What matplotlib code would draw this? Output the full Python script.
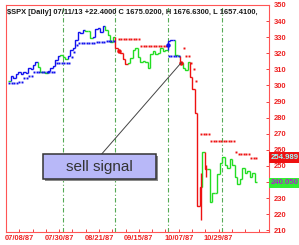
import numpy as np
import matplotlib
matplotlib.use("Agg")
import matplotlib.pyplot as plt
from matplotlib.collections import LineCollection
from matplotlib.patches import Rectangle

# ---------------- data (trading days Jul 1 .. Nov 19, 1987) ----------------
close = [302.94, 305.63, 304.92, 307.40, 308.29, 307.41, 308.37, 307.63, 310.68, 310.42,
         312.70, 314.59, 311.39, 308.55, 308.47, 307.81, 309.27, 310.65, 312.33, 315.65,
         318.05, 318.66, 317.57, 316.23, 318.45, 322.10, 323.00, 328.00, 333.33, 332.39,
         334.65, 333.99, 334.11, 329.25, 329.83, 334.84, 335.90, 333.33, 336.77, 334.57,
         331.38, 327.04, 329.80, 323.40, 321.68, 320.21, 316.70, 313.56, 313.92, 317.13,
         321.98, 323.08, 317.74, 314.86, 314.94, 314.86, 310.54, 319.50, 321.19, 319.72,
         320.16, 323.20, 321.69, 321.83, 327.33, 328.07, 328.08, 319.22, 318.54, 314.16,
         311.07, 309.39, 314.52, 305.23, 298.08, 282.70, 224.84, 236.83, 258.38, 248.25,
         248.22, 227.67, 233.19, 233.28, 244.77, 251.79, 255.75, 250.82, 248.96, 254.48,
         250.41, 243.17, 239.00, 241.90, 248.52, 245.64, 246.76, 243.04, 245.55, 240.05]

# trend colour runs: (first day, last day, state)
trend_runs = [(0, 0, "G"), (1, 11, "B"), (12, 15, "G"), (16, 20, "B"), (21, 23, "G"),
              (24, 30, "B"), (31, 33, "G"), (34, 38, "B"), (39, 42, "G"), (43, 47, "R"),
              (48, 63, "G"), (64, 66, "B"), (67, 68, "G"), (69, 69, "R"), (70, 72, "G"),
              (73, 77, "R"), (78, 78, "G"), (79, 79, "R"), (80, 99, "G")]

# high-low wicks on the crash days
wick_day = [77, 79]
wick_high = [245.6, 250.4]
wick_low = [216.5, 243.0]

# trailing stop runs: (first day, last day, level)
stop_up_runs = [(0, 3, 301.3), (4, 5, 302.3), (6, 7, 304.4), (8, 9, 306.0), (10, 18, 308.5),
                (19, 24, 313.7), (25, 25, 317.6), (26, 26, 320.8), (27, 27, 325.0),
                (28, 34, 326.3), (35, 38, 327.0), (39, 42, 327.6), (64, 68, 318.3)]
stop_dn_runs = [(44, 52, 328.6), (53, 63, 324.5), (70, 70, 323.0), (71, 72, 318.5),
                (73, 73, 314.0), (74, 74, 310.0), (75, 75, 303.0), (77, 80, 269.7),
                (81, 90, 265.6), (91, 91, 258.7), (92, 96, 257.3), (97, 99, 255.2)]

# signal markers
signal_day = [44, 63.8, 69]
signal_price = [321.7, 325.0, 314.2]
signal_state = ["R", "B", "R"]

month_bounds = [21.5, 42.5, 63.5, 85.5]
xtick_days = [4, 20, 36, 52, 68, 84]
xtick_labels = ["07/08/87", "07/30/87", "08/21/87", "09/15/87", "10/07/87", "10/29/87"]
yticks = list(range(210, 351, 10))
hidden_ytick = 240  # covered by the last-close flag

header = "$SPX [Daily] 07/11/13 +22.4000 C 1675.0200, H 1676.6300, L 1657.4100,"
last_stop_label = "254.989"
last_close_label = "240.050"

# ---------------- styling ----------------
COL = {"B": "#1010ee", "G": "#22dd22", "R": "#ee1111"}
RED = "#ee2222"
W, H = 299, 245

fig = plt.figure(figsize=(W / 100, H / 100), dpi=100)
fig.patch.set_facecolor("white")
ax = fig.add_axes([6 / W, 1 - 232 / H, 263 / W, 227 / H])
ax.set_xlim(-0.36, 104.2)
ax.set_ylim(208.9, 350)

for s in ax.spines.values():
    s.set_color("#ff5555")
    s.set_linewidth(0.8)

# month boundary lines
for m in month_bounds:
    ax.axvline(m, color="#55aa55", lw=0.8, ls=(0, (4, 2, 1, 2)), zorder=1)

# price step line, coloured by trend state
state = [None] * len(close)
for a, b, st in trend_runs:
    for k in range(a, b + 1):
        state[k] = st
segs, cols = [], []
for k in range(len(close)):
    prev = close[k - 1] if k > 0 else close[k]
    segs.append([(k - 0.5, prev), (k - 0.5, close[k]), (k + 0.5, close[k])])
    cols.append(COL[state[k]])
lc = LineCollection(segs, colors=cols, linewidths=1.0, zorder=3,
                    capstyle="butt", joinstyle="miter")
ax.add_collection(lc)
for d, hi, lo in zip(wick_day, wick_high, wick_low):
    ax.vlines(d, lo, hi, color=COL[state[d]], lw=1.0, zorder=3)

# stops
def run_points(runs):
    xs, ys = [], []
    for a, b, v in runs:
        for k in range(a, b + 1):
            xs.append(k)
            ys.append(v)
    return xs, ys

ux, uy = run_points(stop_up_runs)
dx, dy = run_points(stop_dn_runs)
ax.plot(ux, uy, ls="none", marker="s", ms=1.4, mew=0, color=COL["B"], zorder=4)
ax.plot(dx, dy, ls="none", marker="s", ms=1.4, mew=0, color=COL["R"], zorder=4)

for d, p, st in zip(signal_day, signal_price, signal_state):
    ax.plot([d], [p], ls="none", marker="o", ms=3.2, mew=0, color=COL[st], zorder=5)

# axes ticks
ax.yaxis.tick_right()
ax.set_yticks(yticks)
ax.set_yticklabels(["" if v == hidden_ytick else str(v) for v in yticks])
ax.set_xticks(xtick_days)
ax.set_xticklabels(xtick_labels)
ax.set_xticks(np.arange(xtick_days[0] - 16 / 3, 104, 16 / 3), minor=True)
ax.tick_params(axis="y", which="both", direction="in", length=2.5, width=0.6,
               colors=RED, labelsize=5.4, pad=3.6)
ax.tick_params(axis="x", which="both", direction="in", length=2.5, width=0.6,
               colors=RED, labelsize=5.4, pad=1.8)
for lab in ax.get_xticklabels() + ax.get_yticklabels():
    lab.set_fontfamily(["Liberation Sans", "DejaVu Sans"])
    lab.set_fontweight("bold")

# header
fig.text(7 / W, 1 - 12.5 / H, header, ha="left", va="center", fontsize=5.45,
         fontweight="bold", color="#1a1a1a",
         family=["Liberation Sans", "DejaVu Sans"])

# last value flags on the right
fig.text(271 / W, 1 - 157.5 / H, last_stop_label, ha="left", va="center", fontsize=5.6,
         fontweight="bold", color="#99ffff", family=["Liberation Sans", "DejaVu Sans"],
         bbox=dict(boxstyle="square,pad=0.2", fc="#ee1111", ec="none"), zorder=10)
fig.text(271 / W, 1 - 183 / H, last_close_label, ha="left", va="center", fontsize=5.6,
         fontweight="bold", color="#aa22cc", family=["Liberation Sans", "DejaVu Sans"],
         bbox=dict(boxstyle="square,pad=0.2", fc="#33ee33", ec="none"), zorder=10)

# sell signal callout
ax.annotate("", xy=(69, 314.16), xycoords="data",
            xytext=(101.7 / W, 1 - 154 / H), textcoords="figure fraction",
            arrowprops=dict(arrowstyle="-", color="#444444", lw=0.7,
                            shrinkA=0, shrinkB=0), zorder=6)
bx, by, bw, bh = 42.7, 154.0, 113.3, 25.3
shadow = Rectangle(((bx + 2) / W, 1 - (by + bh + 2) / H), bw / W, bh / H,
                   transform=fig.transFigure, fc="#8a8a8a", ec="none", zorder=7)
box = Rectangle((bx / W, 1 - (by + bh) / H), bw / W, bh / H,
                transform=fig.transFigure, fc="#b8b8f8", ec="#333333", lw=1.1, zorder=8)
fig.add_artist(shadow)
fig.add_artist(box)
fig.text((bx + bw / 2) / W, 1 - (by + bh / 2 + 0.5) / H, "sell signal", ha="center",
         va="center", fontsize=11, color="#333333",
         family=["Liberation Sans", "DejaVu Sans"], zorder=9)

fig.savefig("out.png", dpi=100)
